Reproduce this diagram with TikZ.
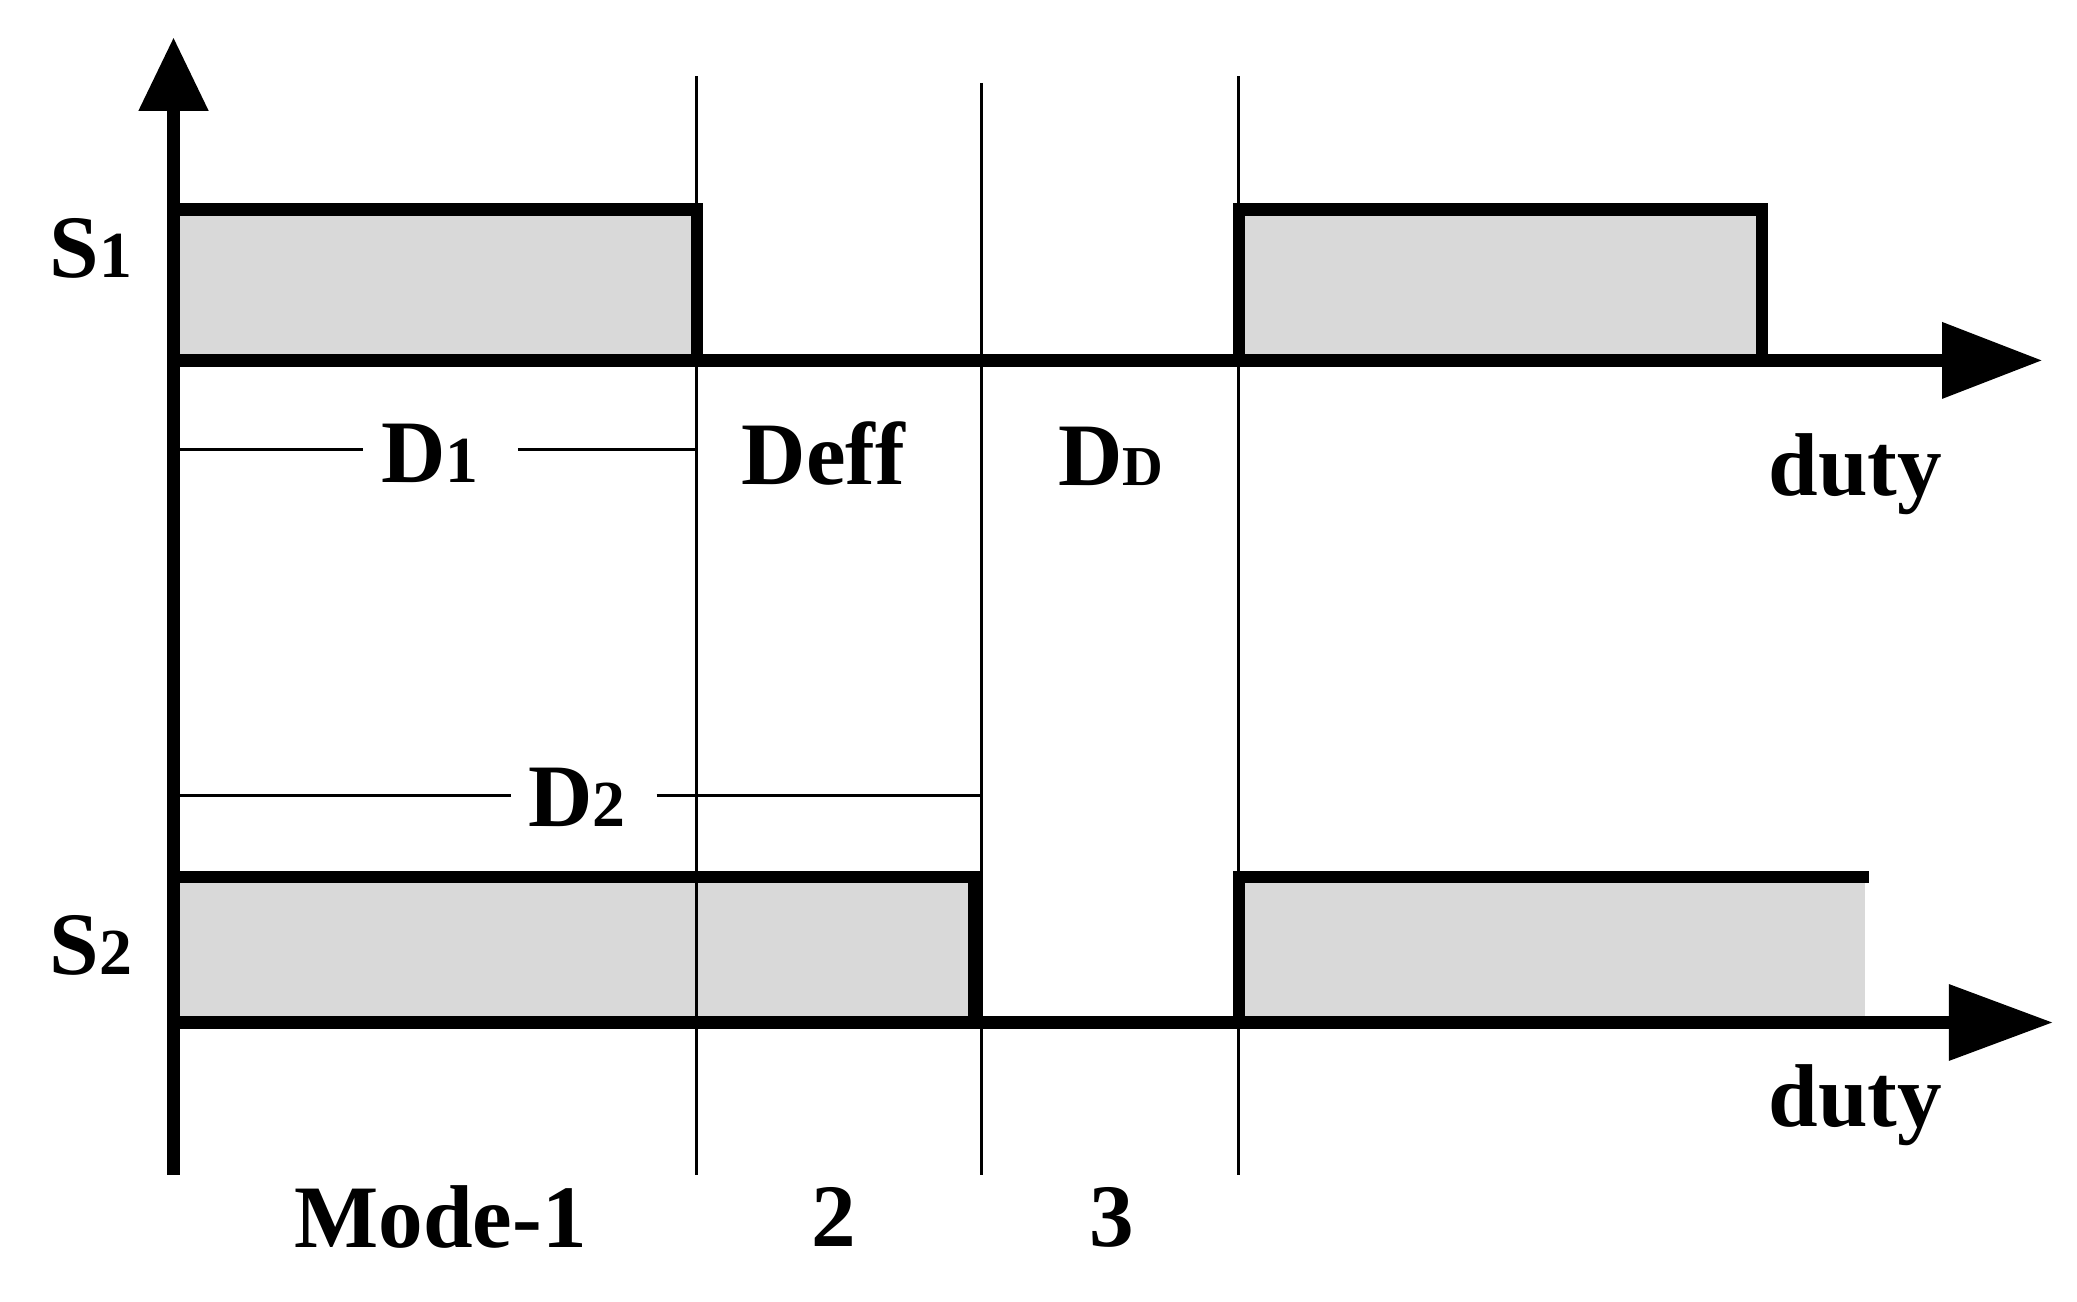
\documentclass[tikz,border=0pt]{standalone}
\usepackage{fontspec}
\setmainfont{Liberation Serif}
\usetikzlibrary{arrows.meta}
\begin{document}
\begin{tikzpicture}[x=0.01cm,y=-0.01cm,
 thick/.style={line width=2.6pt},
 thin/.style={line width=0.6pt},
 pulse/.style={fill=black!15,draw=none},
 lbl/.style={font=\fontsize{19}{22}\selectfont\bfseries,inner sep=0pt},
 sub/.style={}]
\useasboundingbox (0,0) rectangle (1556,975);
% coordinates
\coordinate (o) at (130,880);
\coordinate (ytop) at (130,28);
\coordinate (a1s) at (130,270); \coordinate (a1e) at (1530,270);
\coordinate (a2s) at (130,766); \coordinate (a2e) at (1538,766);
% fills
\fill[pulse] (130,157) rectangle (522,270);
\fill[pulse] (928,157) rectangle (1320,270);
\fill[pulse] (130,657) rectangle (730,766);
\fill[pulse] (928,657) rectangle (1397,766);
% thin verticals
\coordinate (v1t) at (522,57); \coordinate (v1b) at (522,880);
\coordinate (v2t) at (735,62); \coordinate (v2b) at (735,880);
\coordinate (v3t) at (928,57); \coordinate (v3b) at (928,880);
\draw[thin] (v1t) -- (v1b); \draw[thin] (v2t) -- (v2b); \draw[thin] (v3t) -- (v3b);
% pulses
\draw[thick] (130,157) -- (522,157) -- (522,270);
\draw[thick] (928,270) -- (928,157) -- (1320,157) -- (1320,270);
\draw[thick] (130,657) -- (730,657) -- (730,766);
\draw[thick] (928,766) -- (928,657) -- (1400,657);
% axes
\draw[thick,-{Triangle[length=0.55cm,width=0.5cm]}] (o) -- (ytop);
\draw[thick,-{Triangle[length=0.75cm,width=0.55cm]}] (a1s) -- (a1e);
\draw[thick,-{Triangle[length=0.78cm,width=0.55cm]}] (a2s) -- (a2e);
% labels
\node[lbl] (s1) at (68,186) {S\fontsize{14}{16}\selectfont 1};
\node[lbl] (s2) at (68,708) {S\fontsize{14}{16}\selectfont 2};
\node[lbl] (d1) at (322,340) {D\fontsize{14}{16}\selectfont 1};
\node[lbl] (d2) at (432,597) {D\fontsize{14}{16}\selectfont 2};
\node[lbl] (deff) at (617,340) {Deff};
\node[lbl] (dd) at (832,342) {D\fontsize{12}{14}\selectfont D};
\node[lbl] (du1) at (1390,355) {duty};
\node[lbl] (du2) at (1390,828) {duty};
\node[lbl] (m1) at (330,912) {Mode-1};
\node[lbl] (m2) at (625,912) {2};
\node[lbl] (m3) at (833,912) {3};
% dimension lines
\draw[thin] (135,337) -- (272,337); \draw[thin] (388,337) -- (522,337);
\draw[thin] (135,596) -- (383,596); \draw[thin] (492,596) -- (735,596);
\end{tikzpicture}
\end{document}
